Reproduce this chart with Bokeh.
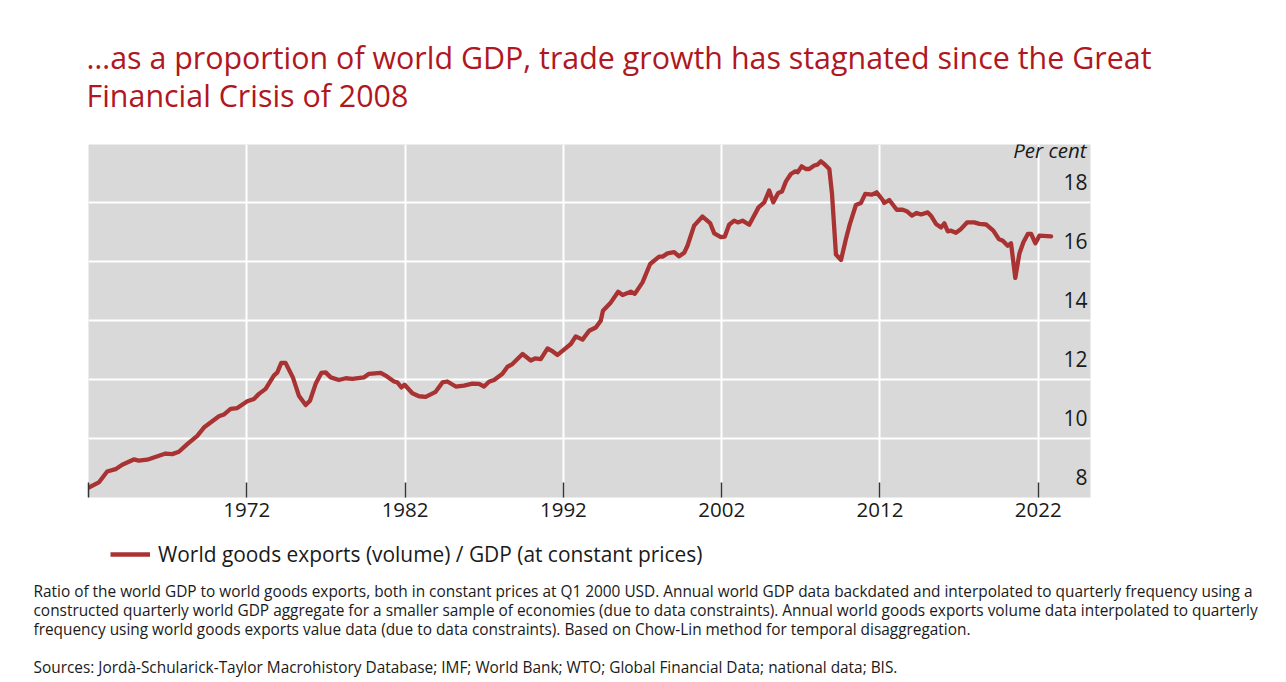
from bokeh.plotting import figure
from bokeh.layouts import column
from bokeh.models import (Range1d, FixedTicker, LinearAxis, Legend, LegendItem, Label, Title)
from bokeh.embed import file_html
from bokeh.resources import INLINE

# ---------------- data ----------------
years = [1962.02, 1962.65, 1963.18, 1963.71, 1964.13, 1964.86, 1965.18, 1965.71, 1966.87, 1967.29,
         1967.71, 1968.24, 1968.87, 1969.29, 1970.24, 1970.55, 1970.98, 1971.40, 1972.03, 1972.45,
         1972.77, 1973.19, 1973.71, 1973.93, 1974.18, 1974.45, 1974.91, 1975.29, 1975.72, 1975.99,
         1976.35, 1976.71, 1976.98, 1977.30, 1977.82, 1978.25, 1978.67, 1979.40, 1979.72, 1980.46,
         1980.77, 1981.30, 1981.51, 1981.77, 1981.97, 1982.46, 1982.88, 1983.30, 1983.93, 1984.36,
         1984.67, 1985.20, 1985.72, 1986.25, 1986.67, 1986.99, 1987.30, 1987.62, 1988.15, 1988.47,
         1988.78, 1989.42, 1989.94, 1990.21, 1990.57, 1991.00, 1991.27, 1991.63, 1992.04, 1992.47,
         1992.78, 1993.21, 1993.63, 1994.05, 1994.36, 1994.50, 1995.00, 1995.46, 1995.74, 1996.26,
         1996.51, 1997.00, 1997.48, 1998.05, 1998.26, 1998.58, 1999.00, 1999.31, 1999.63, 1999.84,
         2000.26, 2000.79, 2001.27, 2001.53, 2001.95, 2002.20, 2002.47, 2002.79, 2003.01, 2003.32,
         2003.74, 2004.33, 2004.69, 2005.00, 2005.26, 2005.57, 2005.81, 2006.06, 2006.37, 2006.65,
         2006.80, 2007.05, 2007.32, 2007.53, 2007.85, 2008.06, 2008.27, 2008.48, 2008.80, 2008.97,
         2009.22, 2009.54, 2009.85, 2010.10, 2010.48, 2010.80, 2011.07, 2011.49, 2011.79, 2012.17,
         2012.27, 2012.59, 2013.06, 2013.43, 2013.69, 2014.02, 2014.32, 2014.59, 2015.02, 2015.22,
         2015.54, 2015.86, 2016.07, 2016.28, 2016.49, 2016.80, 2017.12, 2017.50, 2017.96, 2018.28,
         2018.70, 2019.16, 2019.50, 2019.76, 2020.07, 2020.28, 2020.55, 2020.81, 2021.06, 2021.34,
         2021.55, 2021.82, 2022.07, 2022.81]

ratio = [7.66, 7.83, 8.20, 8.28, 8.43, 8.61, 8.57, 8.60, 8.81, 8.79,
         8.87, 9.13, 9.41, 9.69, 10.07, 10.13, 10.32, 10.35, 10.58, 10.66,
         10.83, 11.00, 11.45, 11.56, 11.88, 11.88, 11.39, 10.77, 10.45, 10.60,
         11.17, 11.54, 11.56, 11.39, 11.30, 11.36, 11.34, 11.39, 11.51, 11.54,
         11.45, 11.25, 11.22, 11.05, 11.14, 10.85, 10.75, 10.73, 10.90, 11.22,
         11.25, 11.08, 11.11, 11.18, 11.17, 11.08, 11.24, 11.30, 11.51, 11.75,
         11.84, 12.18, 11.96, 12.03, 12.01, 12.37, 12.29, 12.15, 12.33, 12.52,
         12.78, 12.67, 12.97, 13.08, 13.31, 13.65, 13.93, 14.29, 14.18, 14.29,
         14.22, 14.61, 15.23, 15.48, 15.48, 15.59, 15.63, 15.49, 15.61, 15.85,
         16.53, 16.84, 16.62, 16.27, 16.14, 16.16, 16.56, 16.70, 16.64, 16.70,
         16.56, 17.15, 17.32, 17.72, 17.32, 17.64, 17.69, 18.03, 18.28, 18.37,
         18.34, 18.54, 18.45, 18.45, 18.57, 18.60, 18.71, 18.62, 18.45, 17.61,
         15.55, 15.37, 16.08, 16.59, 17.23, 17.30, 17.61, 17.58, 17.66, 17.40,
         17.30, 17.40, 17.07, 17.07, 17.02, 16.87, 16.96, 16.91, 16.98, 16.87,
         16.59, 16.47, 16.61, 16.34, 16.36, 16.29, 16.42, 16.64, 16.64, 16.59,
         16.57, 16.36, 16.08, 16.02, 15.85, 15.93, 14.76, 15.59, 15.97, 16.25,
         16.25, 15.93, 16.19, 16.17]

x_ticks = [1962, 1972, 1982, 1992, 2002, 2012, 2022]
y_ticks = [8, 10, 12, 14, 16, 18]
y_grid = [9.32, 11.32, 13.32, 15.32, 17.32]
x_start, x_end = 1962.0, 2025.3
y_start, y_end = 7.32, 19.28

title_text = ("\u2026as a proportion of world GDP, trade growth has stagnated since the Great\n"
              "Financial Crisis of 2008")
series_label = "World goods exports (volume) / GDP (at constant prices)"
notes = [
    "Ratio of the world GDP to world goods exports, both in constant prices at Q1 2000 USD. Annual world GDP data backdated and interpolated to quarterly frequency using a",
    "constructed quarterly world GDP aggregate for a smaller sample of economies (due to data constraints). Annual world goods exports volume data interpolated to quarterly",
    "frequency using world goods exports value data (due to data constraints). Based on Chow-Lin method for temporal disaggregation.",
    " ",
    "Sources: Jord\u00e0-Schularick-Taylor Macrohistory Database; IMF; World Bank; WTO; Global Financial Data; national data; BIS.",
]

FONT = "Open Sans"
RED_TITLE = "#b0171f"
RED_LINE = "#a93232"
TXT = "#1a1a1a"
FRAME_W, FRAME_H = 1002, 353
LEFT, RIGHT = 88, 196

# ---------------- main chart ----------------
p = figure(frame_width=FRAME_W, frame_height=FRAME_H, output_backend="svg", toolbar_location=None,
           x_range=Range1d(x_start, x_end), y_range=Range1d(y_start, y_end),
           x_axis_location=None, y_axis_location=None,
           min_border_left=LEFT, min_border_right=RIGHT, min_border_top=144, min_border_bottom=35)
p.background_fill_color = "#d9d9d9"
p.outline_line_color = None
p.border_fill_color = "white"

p.title.text = title_text
p.title.text_font = FONT
p.title.text_font_size = "30.4px"
p.title.text_line_height = 0.92
p.title.text_font_style = "normal"
p.title.text_color = RED_TITLE
p.title.align = "left"
p.title.offset = -2
p.title.standoff = 57

xaxis = LinearAxis(ticker=FixedTicker(ticks=x_ticks))
xaxis.major_label_overrides = {1962: ""}
xaxis.axis_line_color = None
xaxis.major_tick_in = 15
xaxis.major_tick_out = 0
xaxis.major_tick_line_color = "#333333"
xaxis.major_tick_line_width = 1.5
xaxis.minor_tick_line_color = None
xaxis.major_label_text_font = FONT
xaxis.major_label_text_font_size = "20.5px"
xaxis.major_label_text_color = TXT
xaxis.major_label_standoff = 5
p.add_layout(xaxis, "below")

yaxis = LinearAxis(ticker=FixedTicker(ticks=y_ticks))
yaxis.major_label_overrides = {8: "\u20078"}
yaxis.axis_line_color = None
yaxis.major_tick_in = 0
yaxis.major_tick_out = 0
yaxis.minor_tick_line_color = None
yaxis.major_label_text_font = FONT
yaxis.major_label_text_font_size = "21px"
yaxis.major_label_text_color = TXT
yaxis.major_label_standoff = -27
p.add_layout(yaxis, "right")

p.xgrid.ticker = FixedTicker(ticks=x_ticks[1:])
p.ygrid.ticker = FixedTicker(ticks=y_grid)
for g in (p.xgrid, p.ygrid):
    g.grid_line_color = "white"
    g.grid_line_width = 2

p.line(years, ratio, line_color=RED_LINE, line_width=4.3, line_cap="round", line_join="round")

p.add_layout(Label(x=x_end - 0.25, y=19.1, text="Per cent", text_align="right",
                   text_baseline="middle", text_font=FONT, text_font_size="20.5px",
                   text_font_style="italic", text_color=TXT))

# ---------------- legend + notes strip ----------------
q = figure(frame_width=FRAME_W, frame_height=47, output_backend="svg", toolbar_location=None,
           x_range=Range1d(0, 1), y_range=Range1d(0, 1),
           x_axis_location=None, y_axis_location=None,
           min_border_left=LEFT, min_border_right=RIGHT, min_border_top=0, min_border_bottom=0)
q.outline_line_color = None
q.xgrid.visible = False
q.ygrid.visible = False
q.background_fill_color = "white"
q.border_fill_color = "white"
# legend key: same series, lying outside this strip's visible range
key = q.line(years, ratio, line_color=RED_LINE, line_width=4.3)

legend = Legend(items=[LegendItem(label=series_label, renderers=[key])],
                location=(22, 11), orientation="horizontal",
                label_text_font=FONT, label_text_font_size="20.9px", label_text_color=TXT,
                glyph_width=40, glyph_height=20, label_standoff=8, padding=6, margin=0,
                background_fill_alpha=0, border_line_color=None)
q.add_layout(legend, "center")

q.add_layout(Title(text="\n".join(notes), align="left", offset=-55, text_font=FONT,
                   text_font_size="15.4px", text_font_style="normal", text_line_height=0.906,
                   text_color=TXT, standoff=0), "below")

open("out.html", "w").write(file_html(column(p, q, spacing=0), INLINE))
